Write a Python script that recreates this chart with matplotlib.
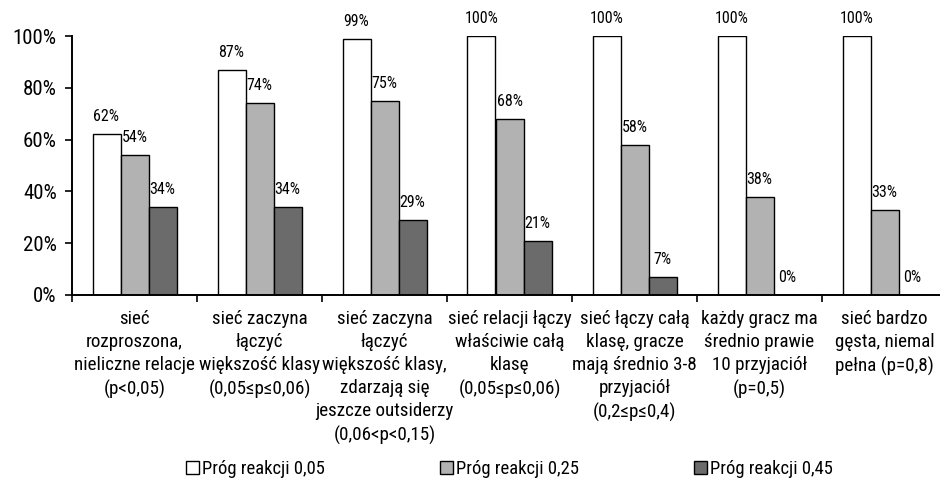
import matplotlib
matplotlib.use("Agg")
import matplotlib.pyplot as plt
from matplotlib.patches import Patch
from matplotlib.transforms import blended_transform_factory

plt.rcParams['font.family'] = ['Roboto Condensed', 'DejaVu Sans']

categories = [
    "sieć\nrozproszona,\nnieliczne relacje\n(p<0,05)",
    "sieć zaczyna\nłączyć\nwiększość klasy\n(0,05≤p≤0,06)",
    "sieć zaczyna\nłączyć\nwiększość klasy,\nzdarzają się\njeszcze outsiderzy\n(0,06<p<0,15)",
    "sieć relacji łączy\nwłaściwie całą\nklasę\n(0,05≤p≤0,06)",
    "sieć łączy całą\nklasę, gracze\nmają średnio 3-8\nprzyjaciół\n(0,2≤p≤0,4)",
    "każdy gracz ma\nśrednio prawie\n10 przyjaciół\n(p=0,5)",
    "sieć bardzo\ngęsta, niemal\npełna (p=0,8)",
]
series_names = ["Próg reakcji 0,05", "Próg reakcji 0,25", "Próg reakcji 0,45"]
prog_005 = [62, 87, 99, 100, 100, 100, 100]
prog_025 = [54, 74, 75, 68, 58, 38, 33]
prog_045 = [34, 34, 29, 21, 7, 0, 0]
y_ticks = [0, 20, 40, 60, 80, 100]

series = [prog_005, prog_025, prog_045]
colors = ["#ffffff", "#b2b2b2", "#6b6b6b"]

fig = plt.figure(figsize=(9.4, 4.88), dpi=100)
ax = fig.add_axes([72 / 940, 1 - 295 / 488, 875 / 940, 259 / 488])

bar_w = 0.224
n = len(categories)
for k, (vals, col) in enumerate(zip(series, colors)):
    xs = [i + (k - 1) * bar_w for i in range(n)]
    ax.bar(xs, vals, width=bar_w, color=col, edgecolor="black", linewidth=1.0, zorder=2)
    for x, v in zip(xs, vals):
        ax.annotate(f"{v}%", (x, v), xytext=(0, 10), textcoords="offset pixels",
                    ha="center", va="bottom", fontsize=11.5, annotation_clip=False)

ax.set_xlim(-0.5, n - 0.5)
ax.set_ylim(0, 100)
ax.set_yticks(y_ticks)
ax.set_yticklabels([f"{t}%" for t in y_ticks], fontsize=15)
ax.set_xticks([i - 0.5 for i in range(n + 1)])
ax.set_xticklabels([])
ax.tick_params(axis="both", direction="out", length=5, width=1.2, color="black")
ax.tick_params(axis="y", pad=6)
for side in ("top", "right"):
    ax.spines[side].set_visible(False)
for side in ("left", "bottom"):
    ax.spines[side].set_linewidth(1.4)

trans = blended_transform_factory(ax.transData, fig.transFigure)
for i, cat in enumerate(categories):
    ax.text(i, 1 - 310 / 488, cat, transform=trans, ha="center", va="top",
            fontsize=13.7, linespacing=1.36)

handles = [Patch(facecolor=c, edgecolor="black", linewidth=1.0) for c in colors]
fig.legend(handles, series_names, loc="center", bbox_to_anchor=(0.542, 1 - 469 / 488),
           ncol=3, frameon=False, fontsize=13.4, handlelength=0.7, handleheight=0.7,
           handletextpad=0.15, columnspacing=6.2)

fig.savefig("out.png", dpi=100)
